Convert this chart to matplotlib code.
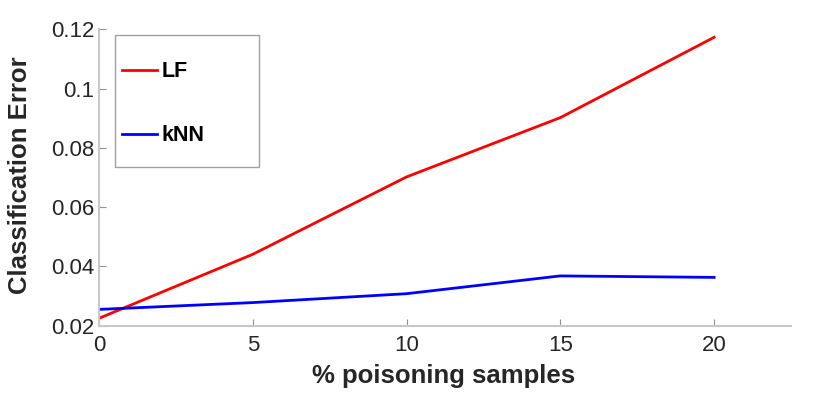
import matplotlib
matplotlib.use("Agg")
import matplotlib.pyplot as plt
from matplotlib.patches import Rectangle

plt.rcParams['font.family'] = ['Liberation Sans', 'DejaVu Sans']

x_pct = [0, 5, 10, 15, 20]
lf_err = [0.0225, 0.0441, 0.0702, 0.0902, 0.1173]
knn_err = [0.0255, 0.0278, 0.0308, 0.0368, 0.0363]
x_ticks = [0, 5, 10, 15, 20]
y_ticks = [0.02, 0.04, 0.06, 0.08, 0.1, 0.12]
y_labels = ['0.02', '0.04', '0.06', '0.08', '0.1', '0.12']

fig = plt.figure(figsize=(8.3, 3.97), dpi=100)
ax = fig.add_axes([0.1193, 0.1796, 0.8337, 0.7466])

ax.plot(x_pct, lf_err, color='#ff0000', lw=2.0, label='LF')
ax.plot(x_pct, knn_err, color='#0000ff', lw=2.0, label='kNN')

ax.set_xlim(0, 22.5)
ax.set_ylim(0.02, 0.12)
ax.set_xticks(x_ticks)
ax.set_yticks(y_ticks)
ax.set_yticklabels(y_labels)

for s in ['top', 'right']:
    ax.spines[s].set_visible(False)
for s in ['left', 'bottom']:
    ax.spines[s].set_color('#c8c8c8')
    ax.spines[s].set_linewidth(1.5)
ax.tick_params(direction='in', length=5, width=0.8, color='#909090',
               labelsize=16, labelcolor='#262626')
ax.tick_params(axis='x', pad=7)
ax.tick_params(axis='y', pad=3.5)

ax.set_xlabel('% poisoning samples', fontsize=18.5, fontweight='bold', color='#262626')
ax.set_ylabel('Classification Error', fontsize=18.5, fontweight='bold', color='#262626')
ax.xaxis.set_label_coords(0.4986, -0.129)
ax.yaxis.set_label_coords(-0.0975, 0.508)

# legend box (MATLAB style: wide frame, entries shifted left)
ax.add_patch(Rectangle((0.0231, 0.535), 0.208, 0.445, transform=ax.transAxes,
                       facecolor='white', edgecolor='#a0a0a0', lw=1.0, zorder=4))
leg = ax.legend(loc='upper left', bbox_to_anchor=(0.0332, 0.892),
                prop={'weight': 'bold', 'size': 15.5}, frameon=False,
                handlelength=1.63, handletextpad=0.2, labelspacing=2.0,
                borderpad=0, borderaxespad=0)
leg.set_zorder(5)

fig.savefig('out.png', dpi=100)
